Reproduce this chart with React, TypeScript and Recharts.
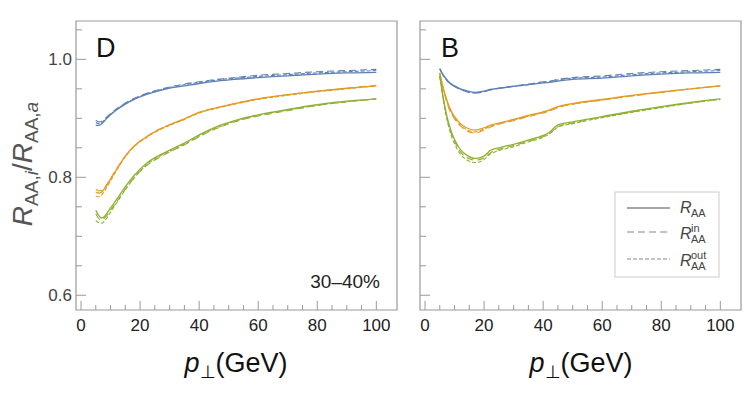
import { LineChart, Line, XAxis, YAxis, ReferenceArea } from 'recharts';

const X_DOMAIN = [-1.7, 107];
const Y_DOMAIN = [0.575, 1.065];
const X_TICKS = [0, 5, 10, 15, 20, 25, 30, 35, 40, 45, 50, 55, 60, 65, 70, 75, 80, 85, 90, 95, 100];
const Y_TICKS = [0.6, 0.65, 0.7, 0.75, 0.8, 0.85, 0.9, 0.95, 1.0, 1.05];
const X_MAJOR = [0, 20, 40, 60, 80, 100];
const Y_MAJOR = [0.6, 0.8, 1.0];

// panel D (30-40%)
const PT_D = [5, 6, 7, 8, 10, 12, 15, 18, 22, 26, 30, 35, 40, 46, 52, 60, 70, 80, 90, 100];
const D_BLUE = [0.888, 0.888, 0.891, 0.896, 0.906, 0.914, 0.924, 0.932, 0.94, 0.946, 0.951, 0.955, 0.959, 0.963, 0.966, 0.969, 0.972, 0.975, 0.977, 0.978];
const D_BLUE_IN = [0.897, 0.894, 0.895, 0.899, 0.908, 0.916, 0.926, 0.934, 0.942, 0.948, 0.953, 0.958, 0.962, 0.966, 0.969, 0.973, 0.976, 0.979, 0.981, 0.983];
const D_BLUE_OUT = [0.893, 0.891, 0.893, 0.897, 0.907, 0.915, 0.925, 0.933, 0.941, 0.947, 0.952, 0.957, 0.961, 0.965, 0.968, 0.971, 0.974, 0.977, 0.979, 0.981];
const D_ORANGE = [0.775, 0.773, 0.775, 0.781, 0.797, 0.813, 0.836, 0.853, 0.868, 0.88, 0.889, 0.899, 0.91, 0.918, 0.925, 0.933, 0.94, 0.946, 0.951, 0.955];
const D_ORANGE_IN = [0.78, 0.777, 0.778, 0.783, 0.798, 0.814, 0.836, 0.853, 0.868, 0.88, 0.889, 0.899, 0.91, 0.918, 0.925, 0.933, 0.94, 0.946, 0.951, 0.956];
const D_ORANGE_OUT = [0.768, 0.767, 0.77, 0.777, 0.794, 0.811, 0.835, 0.852, 0.867, 0.879, 0.888, 0.898, 0.909, 0.917, 0.924, 0.932, 0.939, 0.945, 0.95, 0.955];
const D_GREEN = [0.744, 0.735, 0.731, 0.734, 0.748, 0.762, 0.784, 0.803, 0.823, 0.836, 0.846, 0.858, 0.872, 0.886, 0.896, 0.906, 0.915, 0.923, 0.929, 0.933];
const D_GREEN_IN = [0.738, 0.73, 0.728, 0.731, 0.744, 0.758, 0.78, 0.799, 0.819, 0.832, 0.843, 0.855, 0.869, 0.883, 0.894, 0.904, 0.913, 0.922, 0.928, 0.933];
const D_GREEN_OUT = [0.727, 0.723, 0.722, 0.726, 0.741, 0.756, 0.779, 0.799, 0.82, 0.834, 0.844, 0.856, 0.87, 0.884, 0.895, 0.905, 0.914, 0.922, 0.928, 0.933];

// panel B
const PT_B = [5, 6, 7, 8, 9, 10, 12, 14, 17, 20, 22, 25, 30, 35, 40, 42, 45, 50, 60, 70, 80, 90, 100];
const B_BLUE = [0.984, 0.975, 0.968, 0.962, 0.958, 0.955, 0.95, 0.947, 0.944, 0.946, 0.949, 0.951, 0.954, 0.957, 0.96, 0.961, 0.963, 0.966, 0.968, 0.972, 0.975, 0.977, 0.978];
const B_BLUE_IN = [0.984, 0.974, 0.967, 0.961, 0.957, 0.954, 0.949, 0.945, 0.943, 0.945, 0.948, 0.951, 0.955, 0.958, 0.962, 0.963, 0.966, 0.969, 0.972, 0.976, 0.979, 0.981, 0.983];
const B_BLUE_OUT = [0.984, 0.974, 0.967, 0.961, 0.957, 0.954, 0.949, 0.946, 0.943, 0.945, 0.948, 0.951, 0.954, 0.957, 0.961, 0.962, 0.965, 0.968, 0.97, 0.974, 0.977, 0.979, 0.981];
const B_ORANGE = [0.977, 0.955, 0.937, 0.922, 0.911, 0.903, 0.891, 0.884, 0.88, 0.884, 0.888, 0.892, 0.898, 0.905, 0.911, 0.914, 0.92, 0.925, 0.932, 0.939, 0.945, 0.95, 0.955];
const B_ORANGE_IN = [0.977, 0.953, 0.934, 0.918, 0.907, 0.899, 0.887, 0.879, 0.875, 0.88, 0.885, 0.89, 0.896, 0.903, 0.909, 0.912, 0.918, 0.924, 0.931, 0.938, 0.944, 0.95, 0.955];
const B_ORANGE_OUT = [0.977, 0.954, 0.935, 0.92, 0.909, 0.901, 0.889, 0.881, 0.877, 0.882, 0.886, 0.891, 0.897, 0.904, 0.91, 0.913, 0.919, 0.924, 0.931, 0.938, 0.944, 0.95, 0.955];
const B_GREEN = [0.972, 0.94, 0.913, 0.892, 0.876, 0.864, 0.847, 0.838, 0.832, 0.836, 0.845, 0.85, 0.856, 0.863, 0.871, 0.876, 0.889, 0.894, 0.903, 0.912, 0.92, 0.927, 0.933];
const B_GREEN_IN = [0.972, 0.938, 0.91, 0.889, 0.873, 0.861, 0.843, 0.834, 0.829, 0.833, 0.841, 0.847, 0.854, 0.861, 0.869, 0.874, 0.886, 0.892, 0.902, 0.911, 0.919, 0.926, 0.933];
const B_GREEN_OUT = [0.972, 0.937, 0.908, 0.886, 0.869, 0.857, 0.839, 0.83, 0.825, 0.83, 0.839, 0.845, 0.852, 0.86, 0.868, 0.873, 0.885, 0.891, 0.901, 0.91, 0.918, 0.926, 0.932];

const COLORS = { blue: '#5E81B5', orange: '#E19C24', green: '#8FB032' };
const DASH_IN = '7 4';
const DASH_OUT = '4 2';
const FONT = '"Liberation Sans", Arial, sans-serif';

function buildRows(pt: number[], series: Record<string, number[]>) {
  return pt.map((p, i) => {
    const row: Record<string, number> = { pt: p };
    Object.keys(series).forEach((k) => (row[k] = series[k][i]));
    return row;
  });
}

const dataD = buildRows(PT_D, {
  blue: D_BLUE, blueIn: D_BLUE_IN, blueOut: D_BLUE_OUT,
  orange: D_ORANGE, orangeIn: D_ORANGE_IN, orangeOut: D_ORANGE_OUT,
  green: D_GREEN, greenIn: D_GREEN_IN, greenOut: D_GREEN_OUT,
});
const dataB = buildRows(PT_B, {
  blue: B_BLUE, blueIn: B_BLUE_IN, blueOut: B_BLUE_OUT,
  orange: B_ORANGE, orangeIn: B_ORANGE_IN, orangeOut: B_ORANGE_OUT,
  green: B_GREEN, greenIn: B_GREEN_IN, greenOut: B_GREEN_OUT,
});

const isMajor = (list: number[], v: number) => list.some((m) => Math.abs(m - v) < 1e-6);

const makeYTick = (showLabel: boolean) => (props: any) => {
  const { x, y, payload } = props;
  const major = isMajor(Y_MAJOR, payload.value);
  return (
    <g>
      <line x1={x} x2={x + (major ? 10 : 6)} y1={y} y2={y} stroke="#999" strokeWidth={1} />
      {showLabel && major && (
        <text x={x - 4} y={y + 6} textAnchor="end" fontSize={17} fill="#444" fontFamily={FONT}>
          {payload.value.toFixed(1)}
        </text>
      )}
    </g>
  );
};

const renderXTick = (props: any) => {
  const { x, y, payload } = props;
  const major = isMajor(X_MAJOR, payload.value);
  return (
    <g>
      <line x1={x} x2={x} y1={y} y2={y - (major ? 9 : 5)} stroke="#999" strokeWidth={1} />
      {major && (
        <text x={x} y={y + 21} textAnchor="middle" fontSize={17} fill="#222" fontFamily={FONT}>
          {payload.value}
        </text>
      )}
    </g>
  );
};

function Panel({ data, showLabels, width, margin }: { data: any[]; showLabels: boolean; width: number; margin: any }) {
  const series = [
    ['blue', COLORS.blue],
    ['orange', COLORS.orange],
    ['green', COLORS.green],
  ];
  return (
    <LineChart width={width} height={397} data={data} margin={margin}>
      <XAxis
        dataKey="pt"
        type="number"
        domain={X_DOMAIN}
        ticks={X_TICKS}
        interval={0}
        height={1}
        tickSize={0}
        tickMargin={0}
        axisLine={false}
        tickLine={false}
        allowDataOverflow
        tick={renderXTick}
      />
      <YAxis
        type="number"
        domain={Y_DOMAIN}
        ticks={Y_TICKS}
        interval={0}
        width={1}
        tickSize={0}
        tickMargin={0}
        axisLine={false}
        tickLine={false}
        allowDataOverflow
        tick={makeYTick(showLabels)}
      />
      <ReferenceArea
        x1={X_DOMAIN[0]}
        x2={X_DOMAIN[1]}
        y1={Y_DOMAIN[0]}
        y2={Y_DOMAIN[1]}
        fill="none"
        stroke="#999"
        strokeWidth={1.2}
      />
      {series.map(([key, color]) => [
        <Line key={key} dataKey={key} type="monotone" stroke={color} strokeWidth={1.3} dot={false} isAnimationActive={false} />,
        <Line key={key + 'In'} dataKey={key + 'In'} type="monotone" stroke={color} strokeWidth={1.1} strokeDasharray={DASH_IN} dot={false} isAnimationActive={false} />,
        <Line key={key + 'Out'} dataKey={key + 'Out'} type="monotone" stroke={color} strokeWidth={1.1} strokeDasharray={DASH_OUT} dot={false} isAnimationActive={false} />,
      ])}
    </LineChart>
  );
}

function RaaLabel({ x, y, sup }: { x: number; y: number; sup?: string }) {
  return (
    <text x={x} y={y} fontSize={16} fill="#444" fontFamily={FONT}>
      <tspan fontStyle="italic">R</tspan>
      {sup && (
        <tspan x={x + 11} y={y - 7} fontSize={11}>
          {sup}
        </tspan>
      )}
      <tspan x={x + 11} y={y + 4} fontSize={11}>
        AA
      </tspan>
    </text>
  );
}

export default function App() {
  return (
    <div style={{ position: 'absolute', left: 0, top: 0, width: 747, height: 397, background: '#fff' }}>
      <div style={{ position: 'absolute', left: 0, top: 0 }}>
        <Panel data={dataD} showLabels width={400} margin={{ top: 21, left: 75, right: 3, bottom: 86 }} />
      </div>
      <div style={{ position: 'absolute', left: 400, top: 0 }}>
        <Panel data={dataB} showLabels={false} width={347} margin={{ top: 21, left: 19, right: 6, bottom: 86 }} />
      </div>
      <svg
        width={747}
        height={397}
        style={{ position: 'absolute', left: 0, top: 0, pointerEvents: 'none' }}
        fontFamily={FONT}
      >
        {/* y label */}
        <text x={32} y={164} fontSize={28} fill="#555" textAnchor="middle" transform="rotate(-90, 32, 164)">
          <tspan fontStyle="italic">R</tspan>
          <tspan fontSize={19} dy={6}>AA,</tspan>
          <tspan fontSize={19} fontStyle="italic">i</tspan>
          <tspan dy={-6}>/</tspan>
          <tspan fontStyle="italic">R</tspan>
          <tspan fontSize={19} dy={6}>AA,</tspan>
          <tspan fontSize={19} fontStyle="italic">a</tspan>
        </text>
        {/* x labels */}
        {[236, 581].map((cx) => (
          <text key={cx} x={cx} y={372} fontSize={27} fill="#111" textAnchor="middle">
            <tspan fontStyle="italic">p</tspan>
            <tspan fontSize={18} dy={6}>⊥</tspan>
            <tspan dy={-6}>(GeV)</tspan>
          </text>
        ))}
        <text x={96} y={57} fontSize={27} fill="#111">D</text>
        <text x={441} y={57} fontSize={27} fill="#111">B</text>
        <text x={380} y={288} fontSize={19} fill="#222" textAnchor="end">30–40%</text>
        {/* legend */}
        <rect x={615} y={192} width={104} height={85} fill="#fff" stroke="#ccc" strokeWidth={1} />
        <line x1={627} x2={670} y1={208} y2={208} stroke="#888" strokeWidth={1.4} />
        <line x1={627} x2={670} y1={232} y2={232} stroke="#888" strokeWidth={1.2} strokeDasharray={DASH_IN} />
        <line x1={627} x2={670} y1={259} y2={259} stroke="#888" strokeWidth={1.2} strokeDasharray={DASH_OUT} />
        <RaaLabel x={680} y={213} />
        <RaaLabel x={680} y={239} sup="in" />
        <RaaLabel x={680} y={266} sup="out" />
      </svg>
    </div>
  );
}
